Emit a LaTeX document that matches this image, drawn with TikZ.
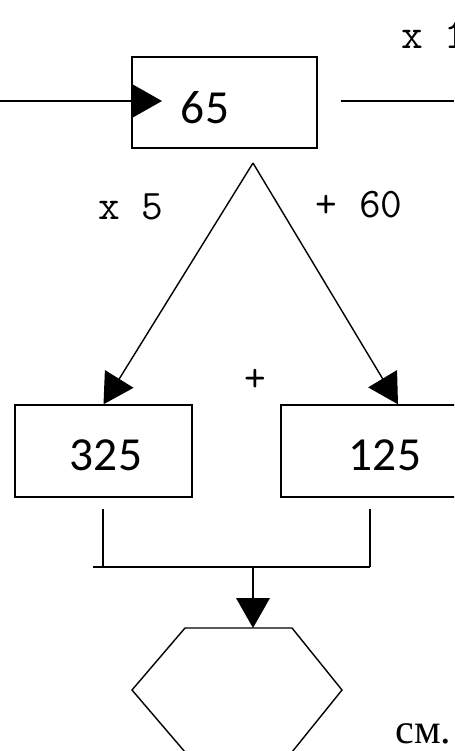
\documentclass[tikz,border=0pt]{standalone}
\usepackage{fontspec}
\setmainfont{Carlito}
\newfontfamily\notefont{Liberation Serif}
\usetikzlibrary{arrows.meta}

\begin{document}
\begin{tikzpicture}[x=0.02cm,y=-0.02cm]
  \tikzstyle{boxStyle}=[draw,line width=1.1pt,inner sep=0pt,minimum height=1.83cm]
  \tikzstyle{numStyle}=[font=\fontsize{27}{30}\selectfont]
  \tikzstyle{opStyle}=[font=\ttfamily\fontsize{24}{26}\selectfont,inner sep=0pt]
  \tikzstyle{noteStyle}=[font=\notefont\fontsize{24}{26}\selectfont,inner sep=0pt]
  \tikzstyle{lineStyle}=[line width=1.1pt]
  \tikzstyle{thinStyle}=[line width=0.8pt]
  \tikzstyle{arrowStyle}=[-{Triangle[length=17pt,width=19pt]}]

  \useasboundingbox (0,0) rectangle (454,751);
  \clip (0,0) rectangle (454,751);

  \begin{scope}
   \node[boxStyle,minimum width=3.7cm,label={[numStyle,xshift=-0.39cm,yshift=-0.1cm]center:65}](start) at (224.5,102.5) {};
   \coordinate (in) at (0,101);
   \coordinate (inTip) at (162,101);
   \draw[lineStyle,arrowStyle] (in) -- (inTip);
   \coordinate (outStart) at (341,101);
   \coordinate (out) at (454,101);
   \draw[lineStyle] (outStart) -- (out);
   \node[opStyle,anchor=west](times1) at (401,35) {x 1};

   \coordinate (split) at (253,163);
   \node[opStyle](times5) at (131,207) {x 5};
   \node[opStyle](plus60) at (359,205) {+ 60};

   \node[boxStyle,minimum width=3.54cm,label={[numStyle,xshift=0.05cm,yshift=-0.08cm]center:325}](number1) at (103.5,451) {};
   \draw[thinStyle,arrowStyle] (split) -- (number1.north);
   \node[boxStyle,minimum width=3.54cm,label={[numStyle,xshift=0.31cm,yshift=-0.08cm]center:125}](number2) at (369.5,451) {};
   \draw[thinStyle,arrowStyle] (split) -- ([xshift=0.57cm]number2.north);
   \node[opStyle](plus) at (255,380) {+};

   % sum of both results
   \coordinate (join1) at (103,509);
   \coordinate (join2) at (370,509);
   \coordinate (merge1) at (93,567);
   \coordinate (merge2) at (370,567);
   \coordinate (mergeMid) at (253,567);
   \draw[lineStyle] (join1) -- (join1 |- merge1);
   \draw[lineStyle] (join2) -- (merge2);
   \draw[lineStyle] (merge1) -- (merge2);

   \coordinate (hexTop) at (253,628);
   \draw[lineStyle,arrowStyle] (mergeMid) -- (hexTop);
   \draw[thinStyle] (185,628) -- (292,628) -- (342,690) -- (292,752) -- (185,752) -- (132,690) -- cycle;
   \node[noteStyle,anchor=west](note) at (395,734) {см.};
  \end{scope}

\end{tikzpicture}
\end{document}
